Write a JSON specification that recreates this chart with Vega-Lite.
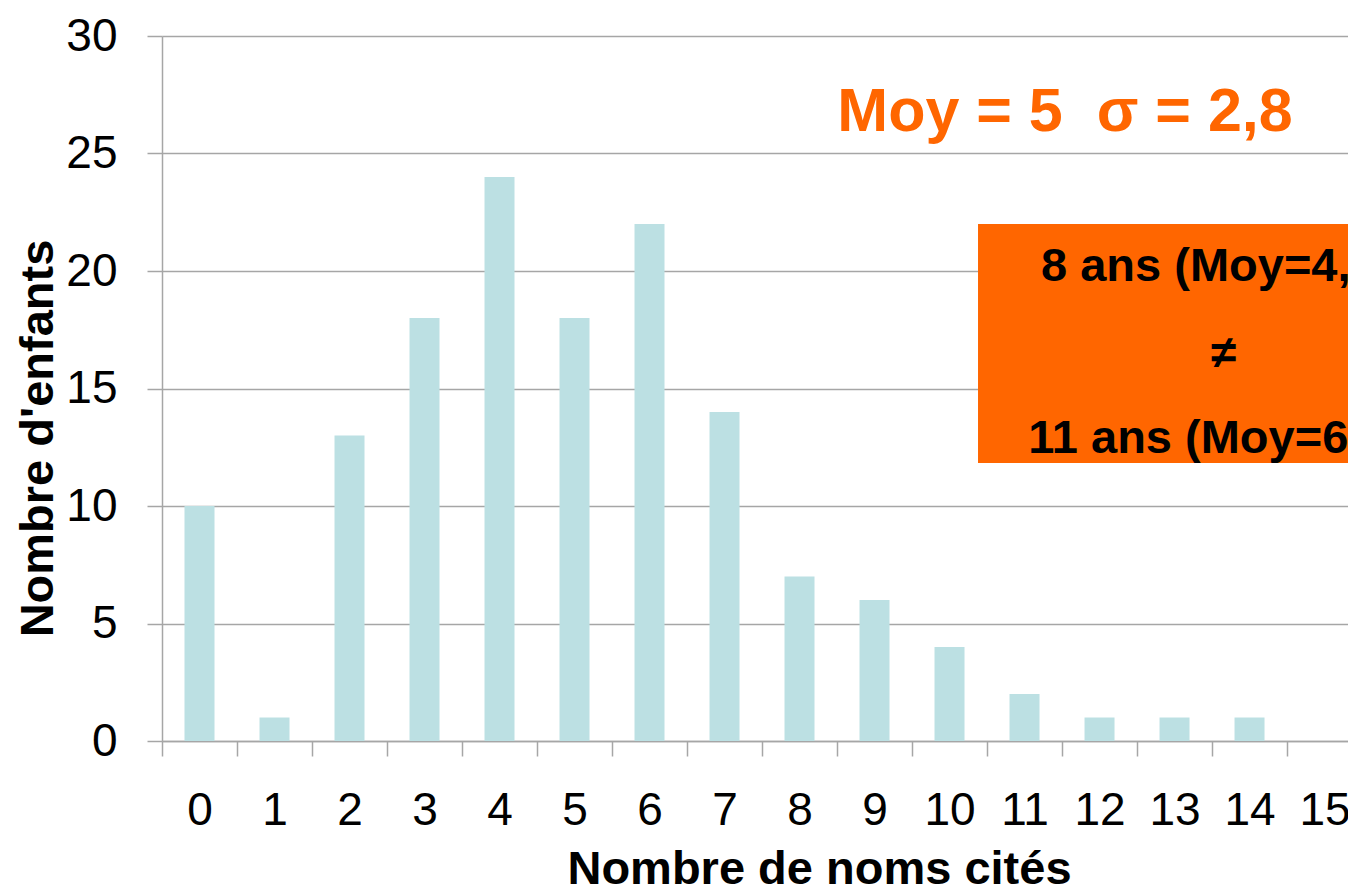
{
  "$schema": "https://vega.github.io/schema/vega-lite/v6.json",
  "width": 1186,
  "height": 705,
  "autosize": {"type": "none"},
  "padding": {"left": 162, "top": 36, "right": 0, "bottom": 151},
  "config": {"view": {"stroke": null}, "font": "Liberation Sans"},
  "data": {"values": [
    {"noms": 0, "enfants": 10},
    {"noms": 1, "enfants": 1},
    {"noms": 2, "enfants": 13},
    {"noms": 3, "enfants": 18},
    {"noms": 4, "enfants": 24},
    {"noms": 5, "enfants": 18},
    {"noms": 6, "enfants": 22},
    {"noms": 7, "enfants": 14},
    {"noms": 8, "enfants": 7},
    {"noms": 9, "enfants": 6},
    {"noms": 10, "enfants": 4},
    {"noms": 11, "enfants": 2},
    {"noms": 12, "enfants": 1},
    {"noms": 13, "enfants": 1},
    {"noms": 14, "enfants": 1},
    {"noms": 15, "enfants": 0}
  ]},
  "layer": [
    {
      "mark": {"type": "bar", "size": 30, "color": "#BCE0E3"},
      "encoding": {
        "x": {
          "field": "noms", "type": "quantitative",
          "scale": {"domain": [-0.5, 15.313], "nice": false, "zero": false, "padding": 0},
          "axis": {
            "values": [-0.5, 0.5, 1.5, 2.5, 3.5, 4.5, 5.5, 6.5, 7.5, 8.5, 9.5, 10.5, 11.5, 12.5, 13.5, 14.5],
            "labelExpr": "format(datum.value + 0.5, 'd')",
            "labelOffset": 37.5,
            "labelBound": false, "labelOverlap": false, "labelFlush": false,
            "labelFontSize": 46, "labelColor": "#000000", "labelBaseline": "middle", "labelPadding": 54,
            "tickSize": 15, "tickColor": "#A6A6A6", "tickWidth": 1.5,
            "domainColor": "#A6A6A6", "domainWidth": 1.5,
            "grid": false,
            "title": "Nombre de noms cités",
            "titleFontSize": 47, "titleFontWeight": "bold", "titleColor": "#000000",
            "titleX": 657, "titleY": 128, "titleAlign": "center", "titleBaseline": "middle"
          }
        },
        "y": {
          "field": "enfants", "type": "quantitative",
          "scale": {"domain": [0, 30], "nice": false},
          "axis": {
            "values": [0, 5, 10, 15, 20, 25, 30],
            "labelFontSize": 46, "labelColor": "#000000", "labelPadding": 30,
            "tickSize": 15, "tickColor": "#A6A6A6", "tickWidth": 1.5,
            "domainColor": "#A6A6A6", "domainWidth": 1.5,
            "grid": true, "gridColor": "#A6A6A6", "gridWidth": 1.5,
            "title": "Nombre d'enfants",
            "titleFontSize": 47, "titleFontWeight": "bold", "titleColor": "#000000",
            "titleX": -124, "titleY": 402, "titleAngle": 270, "titleAlign": "center", "titleBaseline": "middle"
          }
        }
      }
    },
    {
      "data": {"values": [{}]},
      "mark": {"type": "rect", "color": "#FF6600"},
      "encoding": {
        "x": {"datum": 10.38, "type": "quantitative"},
        "x2": {"datum": 15.313},
        "y": {"datum": 22.0, "type": "quantitative"},
        "y2": {"datum": 11.83}
      }
    },
    {
      "data": {"values": [{}]},
      "mark": {"type": "text", "text": "Moy = 5\u00a0 σ = 2,8", "fontSize": 61, "fontWeight": "bold", "color": "#FF6600", "align": "center", "baseline": "alphabetic"},
      "encoding": {
        "x": {"datum": 11.54, "type": "quantitative"},
        "y": {"datum": 25.96, "type": "quantitative"}
      }
    },
    {
      "data": {"values": [{}]},
      "mark": {"type": "text", "text": "8 ans (Moy=4,", "fontSize": 47, "fontWeight": "bold", "color": "#000000", "align": "left", "baseline": "alphabetic"},
      "encoding": {
        "x": {"datum": 11.22, "type": "quantitative"},
        "y": {"datum": 19.57, "type": "quantitative"}
      }
    },
    {
      "data": {"values": [{}]},
      "mark": {"type": "text", "text": "≠", "fontSize": 46, "fontWeight": "bold", "color": "#000000", "align": "center", "baseline": "middle"},
      "encoding": {
        "x": {"datum": 13.65, "type": "quantitative"},
        "y": {"datum": 16.47, "type": "quantitative"}
      }
    },
    {
      "data": {"values": [{}]},
      "mark": {"type": "text", "text": "11 ans (Moy=6", "fontSize": 47, "fontWeight": "bold", "color": "#000000", "align": "left", "baseline": "alphabetic"},
      "encoding": {
        "x": {"datum": 11.05, "type": "quantitative"},
        "y": {"datum": 12.26, "type": "quantitative"}
      }
    }
  ]
}
